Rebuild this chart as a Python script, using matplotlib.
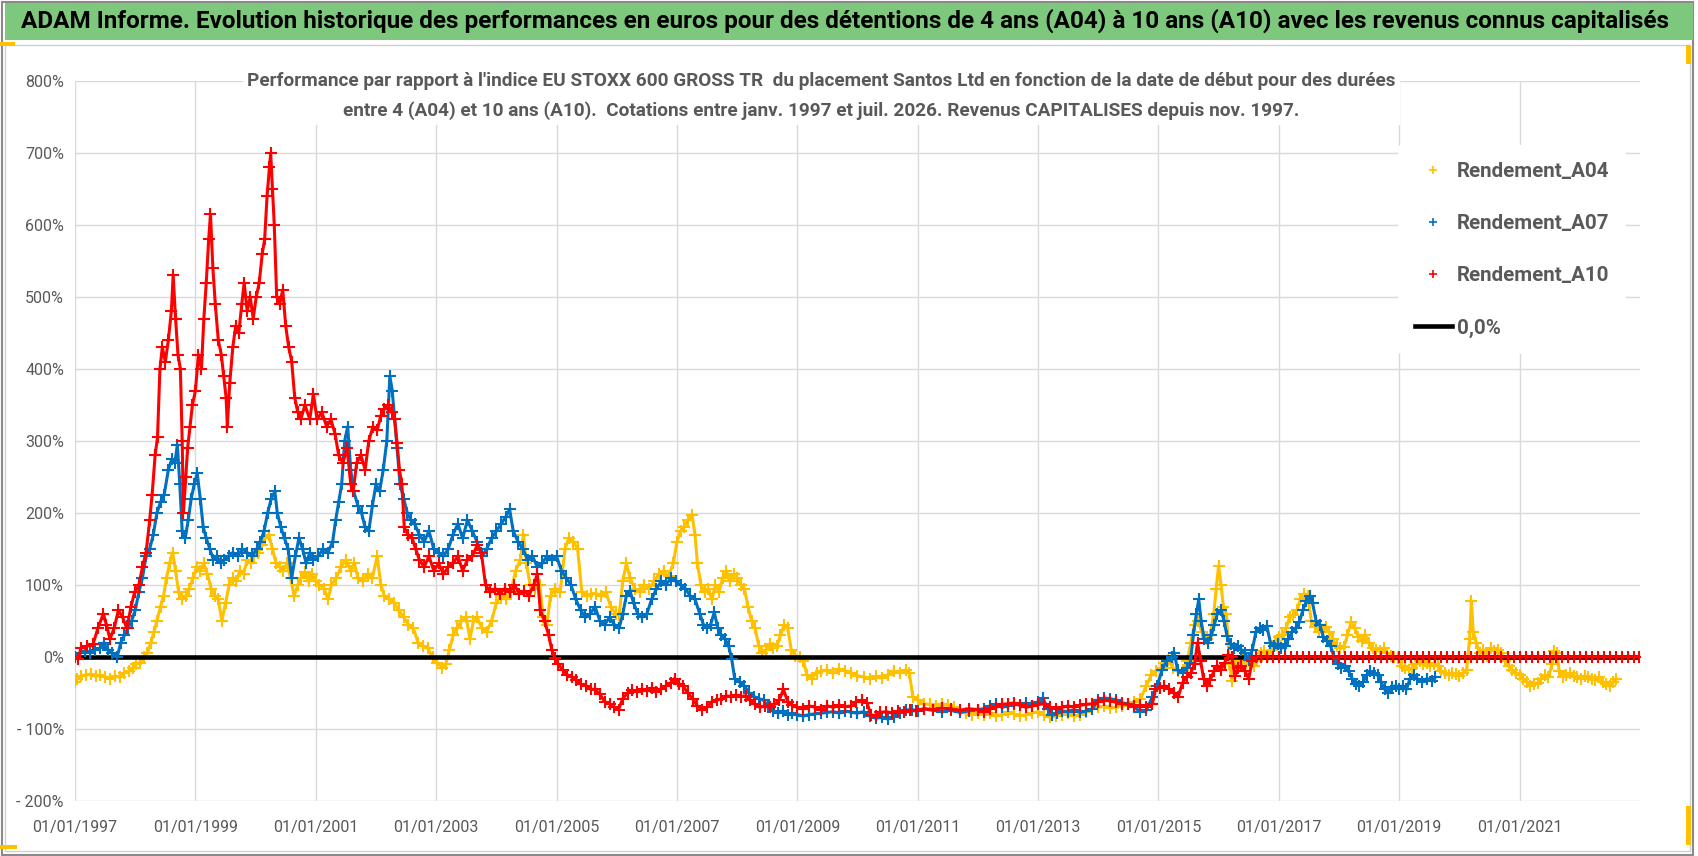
import matplotlib
matplotlib.use("Agg")
import matplotlib.pyplot as plt
from matplotlib.lines import Line2D
from matplotlib.patches import Rectangle

plt.rcParams['font.family'] = ['Roboto', 'DejaVu Sans']

# ---- données (année décimale, % de performance) ----
a04 = [
    (1997.00, -35), (1997.04, -30), (1997.10, -27), (1997.18, -25), (1997.26, -24), (1997.34, -27),
    (1997.42, -25), (1997.50, -28), (1997.58, -30), (1997.66, -27), (1997.74, -28), (1997.82, -22),
    (1997.90, -20), (1997.96, -15), (1998.02, -10), (1998.08, -8), (1998.14, 0), (1998.20, 5),
    (1998.26, 20), (1998.31, 35), (1998.36, 50), (1998.42, 70), (1998.47, 85), (1998.52, 110),
    (1998.57, 130), (1998.62, 145), (1998.67, 120), (1998.72, 90), (1998.78, 80), (1998.84, 85),
    (1998.90, 95), (1998.96, 110), (1999.02, 125), (1999.08, 120), (1999.14, 130), (1999.20, 115),
    (1999.26, 95), (1999.32, 85), (1999.38, 80), (1999.44, 50), (1999.50, 75), (1999.56, 100),
    (1999.62, 110), (1999.68, 105), (1999.74, 120), (1999.80, 115), (1999.86, 135), (1999.92, 130),
    (1999.98, 140), (2000.04, 145), (2000.10, 155), (2000.16, 165), (2000.22, 170), (2000.28, 150),
    (2000.34, 130), (2000.40, 125), (2000.46, 120), (2000.52, 130), (2000.58, 110), (2000.64, 85),
    (2000.70, 100), (2000.76, 110), (2000.82, 118), (2000.88, 105), (2000.94, 115), (2001.00, 105),
    (2001.06, 100), (2001.14, 95), (2001.20, 80), (2001.26, 100), (2001.34, 110), (2001.42, 125),
    (2001.50, 135), (2001.58, 120), (2001.64, 130), (2001.70, 110), (2001.78, 105), (2001.86, 115),
    (2001.94, 110), (2002.02, 140), (2002.08, 100), (2002.14, 85), (2002.22, 80), (2002.30, 75),
    (2002.38, 65), (2002.46, 55), (2002.54, 45), (2002.62, 40), (2002.70, 20), (2002.78, 15),
    (2002.86, 12), (2002.94, 0), (2003.02, -8), (2003.10, -15), (2003.16, -10), (2003.22, 10),
    (2003.28, 30), (2003.34, 40), (2003.42, 50), (2003.50, 55), (2003.56, 25), (2003.62, 50),
    (2003.68, 55), (2003.76, 40), (2003.84, 35), (2003.92, 50), (2004.00, 75), (2004.08, 85),
    (2004.16, 80), (2004.24, 90), (2004.32, 120), (2004.40, 135), (2004.45, 170), (2004.50, 130),
    (2004.56, 100), (2004.64, 95), (2004.72, 100), (2004.78, 55), (2004.84, 45), (2004.90, 85),
    (2004.98, 95), (2005.06, 90), (2005.14, 150), (2005.20, 165), (2005.28, 160), (2005.35, 150),
    (2005.42, 90), (2005.50, 85), (2005.58, 88), (2005.66, 88), (2005.74, 85), (2005.82, 90),
    (2005.90, 70), (2005.98, 60), (2006.04, 58), (2006.10, 105), (2006.16, 130), (2006.22, 110),
    (2006.30, 95), (2006.38, 90), (2006.46, 100), (2006.54, 95), (2006.62, 105), (2006.70, 115),
    (2006.78, 120), (2006.86, 112), (2006.94, 130), (2007.00, 160), (2007.06, 175), (2007.12, 180),
    (2007.18, 190), (2007.25, 197), (2007.30, 170), (2007.34, 130), (2007.40, 100), (2007.46, 90),
    (2007.52, 95), (2007.58, 80), (2007.64, 100), (2007.70, 90), (2007.76, 110), (2007.82, 120),
    (2007.88, 105), (2007.94, 115), (2008.00, 110), (2008.06, 100), (2008.12, 95), (2008.18, 70),
    (2008.24, 50), (2008.30, 40), (2008.36, 15), (2008.42, 5), (2008.48, 10), (2008.54, 18),
    (2008.60, 12), (2008.66, 15), (2008.72, 30), (2008.78, 45), (2008.84, 40), (2008.90, 10),
    (2008.96, 2), (2009.04, 0), (2009.10, -5), (2009.16, -25), (2009.24, -30), (2009.32, -22),
    (2009.40, -20), (2009.50, -18), (2009.60, -22), (2009.70, -17), (2009.80, -20), (2009.90, -22),
    (2010.00, -26), (2010.10, -28), (2010.20, -30), (2010.30, -27), (2010.40, -29), (2010.50, -25),
    (2010.60, -20), (2010.70, -22), (2010.80, -18), (2010.86, -22), (2010.92, -55), (2011.00, -60),
    (2011.10, -65), (2011.20, -66), (2011.30, -68), (2011.40, -65), (2011.50, -67), (2011.60, -70),
    (2011.70, -75), (2011.80, -78), (2011.90, -80), (2012.00, -78), (2012.10, -80), (2012.20, -78),
    (2012.30, -82), (2012.40, -80), (2012.50, -77), (2012.60, -79), (2012.70, -82), (2012.80, -80),
    (2012.90, -78), (2013.00, -76), (2013.10, -80), (2013.20, -84), (2013.30, -82), (2013.40, -80),
    (2013.50, -78), (2013.60, -82), (2013.70, -80), (2013.80, -77), (2013.90, -72), (2014.00, -70),
    (2014.10, -68), (2014.20, -71), (2014.30, -70), (2014.40, -68), (2014.50, -66), (2014.60, -62),
    (2014.70, -58), (2014.80, -40), (2014.88, -25), (2014.96, -20), (2015.04, -15), (2015.10, -8),
    (2015.16, -4), (2015.24, -15), (2015.32, -20), (2015.40, -18), (2015.48, -5), (2015.54, 20),
    (2015.60, 45), (2015.66, 50), (2015.72, 35), (2015.80, 25), (2015.86, 30), (2015.92, 60),
    (2015.96, 95), (2016.00, 127), (2016.04, 100), (2016.08, 70), (2016.13, 60), (2016.18, -10),
    (2016.22, -33), (2016.28, -15), (2016.34, -5), (2016.40, 0), (2016.46, -8), (2016.52, -10),
    (2016.58, -13), (2016.64, -5), (2016.70, 5), (2016.76, 8), (2016.82, 2), (2016.88, 10),
    (2016.94, 22), (2017.00, 28), (2017.06, 30), (2017.12, 40), (2017.18, 55), (2017.24, 58),
    (2017.30, 65), (2017.36, 80), (2017.42, 88), (2017.48, 85), (2017.54, 50), (2017.60, 42),
    (2017.66, 35), (2017.72, 38), (2017.78, 42), (2017.84, 35), (2017.90, 25), (2017.96, 15),
    (2018.02, 12), (2018.08, 14), (2018.14, 30), (2018.20, 48), (2018.26, 40), (2018.32, 28),
    (2018.38, 22), (2018.44, 30), (2018.50, 20), (2018.56, 12), (2018.62, 10), (2018.68, 8),
    (2018.74, 12), (2018.80, 5), (2018.86, 2), (2018.92, 0), (2018.98, -2), (2019.04, -12),
    (2019.10, -16), (2019.16, -18), (2019.22, -15), (2019.28, -10), (2019.34, -6), (2019.40, -10),
    (2019.46, -8), (2019.52, -12), (2019.58, -10), (2019.64, -12), (2019.70, -20), (2019.76, -22),
    (2019.82, -25), (2019.88, -22), (2019.94, -24), (2020.00, -26), (2020.06, -22), (2020.12, -18),
    (2020.17, 25), (2020.20, 78), (2020.23, 35), (2020.28, 20), (2020.34, 5), (2020.40, 10),
    (2020.46, 2), (2020.52, 12), (2020.58, 8), (2020.64, 10), (2020.70, 5), (2020.76, -5),
    (2020.82, -12), (2020.88, -18), (2020.94, -22), (2021.00, -25), (2021.06, -30), (2021.12, -35),
    (2021.18, -40), (2021.24, -38), (2021.30, -36), (2021.36, -30), (2021.42, -25), (2021.48, -28),
    (2021.54, -10), (2021.58, 8), (2021.62, 5), (2021.66, -20), (2021.72, -28), (2021.78, -25),
    (2021.84, -22), (2021.90, -27), (2021.96, -28), (2022.02, -30), (2022.08, -26), (2022.14, -28),
    (2022.20, -30), (2022.26, -32), (2022.32, -28), (2022.38, -35), (2022.44, -38), (2022.50, -40),
    (2022.56, -35), (2022.60, -30),
]

a07 = [
    (1997.00, 0), (1997.08, 5), (1997.16, 8), (1997.25, 6), (1997.33, 10), (1997.41, 12),
    (1997.48, 20), (1997.55, 10), (1997.62, 5), (1997.70, 0), (1997.76, 20), (1997.82, 30),
    (1997.88, 40), (1997.94, 50), (1998.00, 65), (1998.06, 90), (1998.12, 110), (1998.18, 140),
    (1998.24, 150), (1998.30, 170), (1998.36, 200), (1998.42, 215), (1998.48, 225), (1998.55, 260),
    (1998.61, 275), (1998.66, 270), (1998.70, 295), (1998.74, 240), (1998.78, 175), (1998.83, 165),
    (1998.88, 190), (1998.93, 220), (1998.98, 240), (1999.03, 255), (1999.08, 220), (1999.13, 180),
    (1999.18, 165), (1999.24, 150), (1999.30, 135), (1999.36, 140), (1999.42, 130), (1999.48, 135),
    (1999.55, 140), (1999.62, 145), (1999.70, 140), (1999.78, 150), (1999.86, 145), (1999.94, 140),
    (2000.02, 150), (2000.08, 160), (2000.14, 175), (2000.20, 200), (2000.26, 220), (2000.32, 230),
    (2000.36, 200), (2000.42, 180), (2000.48, 165), (2000.54, 150), (2000.60, 110), (2000.66, 140),
    (2000.72, 165), (2000.78, 150), (2000.84, 130), (2000.90, 145), (2000.96, 135), (2001.04, 140),
    (2001.12, 150), (2001.20, 145), (2001.28, 160), (2001.33, 190), (2001.38, 215), (2001.43, 240),
    (2001.48, 300), (2001.53, 320), (2001.58, 260), (2001.63, 230), (2001.70, 210), (2001.76, 200),
    (2001.82, 180), (2001.88, 175), (2001.94, 210), (2002.00, 240), (2002.06, 230), (2002.12, 260),
    (2002.18, 300), (2002.23, 390), (2002.27, 370), (2002.31, 330), (2002.35, 290), (2002.40, 240),
    (2002.46, 220), (2002.52, 200), (2002.58, 190), (2002.64, 185), (2002.72, 170), (2002.80, 160),
    (2002.88, 175), (2002.96, 150), (2003.04, 145), (2003.12, 140), (2003.20, 150), (2003.28, 170),
    (2003.36, 185), (2003.44, 165), (2003.52, 190), (2003.60, 175), (2003.68, 160), (2003.76, 140),
    (2003.84, 150), (2003.92, 165), (2004.00, 175), (2004.08, 185), (2004.16, 195), (2004.22, 205),
    (2004.28, 175), (2004.36, 160), (2004.44, 150), (2004.52, 135), (2004.60, 140), (2004.68, 125),
    (2004.76, 130), (2004.84, 140), (2004.92, 135), (2005.00, 140), (2005.08, 120), (2005.16, 110),
    (2005.24, 100), (2005.32, 80), (2005.40, 65), (2005.48, 55), (2005.56, 60), (2005.64, 70),
    (2005.72, 50), (2005.80, 45), (2005.88, 55), (2005.96, 45), (2006.04, 40), (2006.10, 60),
    (2006.16, 85), (2006.22, 92), (2006.28, 75), (2006.35, 60), (2006.42, 55), (2006.50, 60),
    (2006.58, 80), (2006.66, 95), (2006.74, 105), (2006.82, 100), (2006.90, 110), (2006.98, 105),
    (2007.06, 100), (2007.14, 95), (2007.22, 85), (2007.30, 80), (2007.38, 60), (2007.44, 45),
    (2007.50, 40), (2007.56, 45), (2007.62, 62), (2007.68, 40), (2007.74, 30), (2007.80, 25),
    (2007.86, 15), (2007.91, -3), (2007.96, -30), (2008.04, -35), (2008.12, -40), (2008.20, -50),
    (2008.28, -55), (2008.36, -58), (2008.44, -60), (2008.52, -70), (2008.60, -75), (2008.68, -78),
    (2008.76, -75), (2008.84, -80), (2008.92, -78), (2009.00, -80), (2009.10, -82), (2009.20, -80),
    (2009.30, -79), (2009.40, -78), (2009.50, -77), (2009.60, -76), (2009.70, -78), (2009.80, -75),
    (2009.90, -77), (2010.00, -78), (2010.10, -76), (2010.20, -82), (2010.30, -85), (2010.40, -84),
    (2010.50, -86), (2010.60, -83), (2010.70, -78), (2010.80, -74), (2010.90, -73), (2011.00, -75),
    (2011.10, -72), (2011.25, -74), (2011.40, -76), (2011.55, -74), (2011.70, -77), (2011.85, -75),
    (2012.00, -73), (2012.10, -72), (2012.20, -68), (2012.30, -66), (2012.40, -70), (2012.50, -68),
    (2012.60, -65), (2012.70, -67), (2012.80, -64), (2012.90, -68), (2013.00, -62), (2013.08, -57),
    (2013.16, -72), (2013.24, -81), (2013.32, -78), (2013.40, -75), (2013.50, -76), (2013.60, -74),
    (2013.70, -77), (2013.80, -75), (2013.90, -72), (2014.00, -60), (2014.10, -57), (2014.20, -58),
    (2014.30, -60), (2014.40, -64), (2014.50, -65), (2014.60, -70), (2014.70, -76), (2014.80, -74),
    (2014.90, -55), (2014.98, -40), (2015.06, -18), (2015.14, -5), (2015.22, 0), (2015.26, 6),
    (2015.32, -18), (2015.40, -22), (2015.47, -15), (2015.53, -8), (2015.58, 30), (2015.63, 60),
    (2015.67, 80), (2015.71, 50), (2015.76, 25), (2015.82, 20), (2015.88, 30), (2015.93, 45),
    (2015.98, 60), (2016.04, 65), (2016.09, 50), (2016.14, 29), (2016.20, 18), (2016.26, 12),
    (2016.32, 15), (2016.38, 10), (2016.44, 5), (2016.50, -4), (2016.56, 10), (2016.62, 35),
    (2016.68, 40), (2016.74, 38), (2016.80, 43), (2016.86, 20), (2016.92, 15), (2016.98, 18),
    (2017.04, 12), (2017.10, 15), (2017.16, 25), (2017.22, 35), (2017.28, 40), (2017.34, 48),
    (2017.40, 65), (2017.46, 78), (2017.52, 85), (2017.56, 75), (2017.62, 50), (2017.68, 45),
    (2017.74, 28), (2017.80, 22), (2017.86, 15), (2017.92, 0), (2017.98, -10), (2018.04, -15),
    (2018.10, -12), (2018.16, -20), (2018.22, -30), (2018.28, -38), (2018.34, -40), (2018.40, -35),
    (2018.46, -25), (2018.52, -20), (2018.58, -22), (2018.64, -25), (2018.70, -35), (2018.76, -45),
    (2018.82, -50), (2018.88, -42), (2018.94, -40), (2019.00, -44), (2019.06, -40), (2019.12, -45),
    (2019.18, -30), (2019.24, -25), (2019.30, -30), (2019.38, -35), (2019.46, -30), (2019.54, -33),
    (2019.60, -28),
]

a10 = [
    (1997.00, 0), (1997.05, -3), (1997.10, 12), (1997.20, 15), (1997.30, 18), (1997.38, 40),
    (1997.47, 60), (1997.52, 45), (1997.58, 25), (1997.65, 40), (1997.72, 65), (1997.79, 55),
    (1997.86, 40), (1997.93, 70), (1997.99, 90), (1998.06, 100), (1998.12, 125), (1998.18, 145),
    (1998.24, 190), (1998.28, 225), (1998.33, 280), (1998.37, 305), (1998.41, 400), (1998.45, 430),
    (1998.50, 410), (1998.55, 440), (1998.60, 480), (1998.63, 530), (1998.67, 470), (1998.71, 420),
    (1998.75, 400), (1998.78, 300), (1998.80, 200), (1998.84, 250), (1998.87, 290), (1998.91, 320),
    (1998.95, 350), (1999.00, 370), (1999.05, 420), (1999.10, 400), (1999.14, 470), (1999.18, 520),
    (1999.22, 580), (1999.25, 615), (1999.29, 540), (1999.33, 490), (1999.38, 440), (1999.43, 420),
    (1999.47, 390), (1999.51, 360), (1999.53, 320), (1999.57, 380), (1999.62, 430), (1999.67, 460),
    (1999.72, 450), (1999.77, 490), (1999.81, 520), (1999.86, 480), (1999.91, 500), (1999.96, 470),
    (2000.01, 500), (2000.06, 520), (2000.11, 560), (2000.15, 580), (2000.19, 640), (2000.23, 680),
    (2000.25, 700), (2000.28, 650), (2000.31, 600), (2000.35, 500), (2000.40, 490), (2000.45, 510),
    (2000.50, 460), (2000.55, 430), (2000.60, 410), (2000.65, 360), (2000.70, 340), (2000.75, 330),
    (2000.82, 350), (2000.90, 330), (2000.96, 365), (2001.02, 330), (2001.10, 340), (2001.18, 320),
    (2001.25, 330), (2001.32, 310), (2001.38, 280), (2001.45, 270), (2001.52, 290), (2001.58, 240),
    (2001.62, 230), (2001.68, 270), (2001.75, 280), (2001.82, 260), (2001.88, 300), (2001.95, 320),
    (2002.02, 315), (2002.08, 335), (2002.14, 345), (2002.20, 350), (2002.26, 340), (2002.31, 330),
    (2002.35, 297), (2002.39, 260), (2002.43, 240), (2002.47, 180), (2002.53, 170), (2002.60, 165),
    (2002.66, 150), (2002.72, 135), (2002.80, 125), (2002.88, 140), (2002.96, 120), (2003.04, 130),
    (2003.12, 115), (2003.20, 125), (2003.28, 130), (2003.36, 140), (2003.44, 120), (2003.52, 135),
    (2003.60, 140), (2003.68, 155), (2003.75, 145), (2003.82, 100), (2003.90, 90), (2003.98, 95),
    (2004.06, 88), (2004.14, 95), (2004.22, 90), (2004.30, 100), (2004.38, 88), (2004.46, 92),
    (2004.54, 85), (2004.62, 100), (2004.68, 115), (2004.73, 65), (2004.80, 50), (2004.87, 30),
    (2004.92, 10), (2004.97, -2), (2005.03, -10), (2005.10, -18), (2005.18, -25), (2005.26, -28),
    (2005.33, -32), (2005.41, -38), (2005.49, -40), (2005.57, -45), (2005.64, -45), (2005.72, -52),
    (2005.80, -62), (2005.88, -65), (2005.96, -70), (2006.03, -73), (2006.10, -58), (2006.18, -50),
    (2006.26, -46), (2006.34, -48), (2006.42, -45), (2006.50, -47), (2006.58, -43), (2006.66, -48),
    (2006.74, -44), (2006.82, -40), (2006.90, -36), (2006.96, -30), (2007.03, -37), (2007.10, -40),
    (2007.18, -50), (2007.26, -58), (2007.34, -68), (2007.42, -73), (2007.50, -70), (2007.58, -62),
    (2007.66, -60), (2007.74, -58), (2007.82, -54), (2007.90, -55), (2007.98, -53), (2008.06, -55),
    (2008.14, -54), (2008.22, -60), (2008.30, -66), (2008.38, -70), (2008.46, -68), (2008.54, -70),
    (2008.62, -66), (2008.70, -60), (2008.77, -45), (2008.84, -62), (2008.92, -67), (2009.00, -70),
    (2009.10, -72), (2009.20, -68), (2009.30, -70), (2009.40, -73), (2009.50, -68), (2009.60, -70),
    (2009.70, -67), (2009.80, -69), (2009.90, -68), (2009.98, -62), (2010.08, -60), (2010.16, -64),
    (2010.22, -80), (2010.30, -82), (2010.38, -77), (2010.48, -76), (2010.58, -78), (2010.68, -75),
    (2010.78, -76), (2010.88, -74), (2010.98, -75), (2011.10, -72), (2011.25, -73), (2011.40, -71),
    (2011.55, -72), (2011.70, -74), (2011.85, -72), (2012.00, -73), (2012.10, -76), (2012.20, -72),
    (2012.30, -70), (2012.40, -66), (2012.50, -65), (2012.60, -64), (2012.70, -67), (2012.80, -70),
    (2012.90, -68), (2013.00, -66), (2013.10, -65), (2013.20, -70), (2013.30, -72), (2013.40, -70),
    (2013.50, -68), (2013.60, -70), (2013.70, -67), (2013.80, -66), (2013.90, -65), (2014.00, -62),
    (2014.10, -60), (2014.20, -61), (2014.30, -63), (2014.40, -65), (2014.50, -66), (2014.60, -68),
    (2014.70, -67), (2014.80, -69), (2014.90, -65), (2014.95, -45), (2015.02, -43), (2015.10, -40),
    (2015.18, -45), (2015.26, -50), (2015.33, -55), (2015.40, -36), (2015.47, -28), (2015.54, -22),
    (2015.60, -10), (2015.65, 20), (2015.70, -5), (2015.75, -30), (2015.81, -40), (2015.86, -32),
    (2015.92, -20), (2015.98, -12), (2016.04, -18), (2016.10, -8), (2016.16, 3), (2016.22, 0),
    (2016.27, -27), (2016.33, -15), (2016.38, -12), (2016.44, -20), (2016.50, -30), (2016.56, -5),
    (2016.62, 0), (2016.7, 0), (2016.8, 0), (2016.9, 0), (2017.0, 0), (2017.1, 0), (2017.2, 0),
    (2017.3, 0), (2017.4, 0), (2017.5, 0), (2017.6, 0), (2017.7, 0), (2017.8, 0), (2017.9, 0),
    (2018.0, 0), (2018.1, 0), (2018.2, 0), (2018.3, 0), (2018.4, 0), (2018.5, 0), (2018.6, 0),
    (2018.7, 0), (2018.8, 0), (2018.9, 0), (2019.0, 0), (2019.1, 0), (2019.2, 0), (2019.3, 0),
    (2019.4, 0), (2019.5, 0), (2019.6, 0), (2019.7, 0), (2019.8, 0), (2019.9, 0), (2020.0, 0),
    (2020.1, 0), (2020.2, 0), (2020.3, 0), (2020.4, 0), (2020.5, 0), (2020.6, 0), (2020.7, 0),
    (2020.8, 0), (2020.9, 0), (2021.0, 0), (2021.1, 0), (2021.2, 0), (2021.3, 0), (2021.4, 0),
    (2021.5, 0), (2021.6, 0), (2021.7, 0), (2021.8, 0), (2021.9, 0), (2022.0, 0), (2022.1, 0),
    (2022.2, 0), (2022.3, 0), (2022.4, 0), (2022.5, 0), (2022.6, 0), (2022.7, 0), (2022.8, 0),
    (2022.9, 0), (2022.98, 0),
]

series_names = ['Rendement_A04', 'Rendement_A07', 'Rendement_A10']
series_colors = ['#FFC000', '#0070C0', '#FF0000']
tick_years = [1997, 1999, 2001, 2003, 2005, 2007, 2009, 2011, 2013, 2015, 2017, 2019, 2021]
y_ticks = [-200, -100, 0, 100, 200, 300, 400, 500, 600, 700, 800]
y_labels = ['- 200%', '- 100%', '0%', '100%', '200%', '300%', '400%', '500%', '600%', '700%', '800%']

titre = ("ADAM Informe. Evolution historique des performances en euros pour des détentions de 4 ans (A04) "
         "à 10 ans (A10) avec les revenus connus capitalisés")
sous_titre = ("Performance par rapport à l'indice EU STOXX 600 GROSS TR  du placement Santos Ltd en fonction "
              "de la date de début pour des durées\nentre 4 (A04) et 10 ans (A10).  Cotations entre janv. 1997 "
              "et juil. 2026. Revenus CAPITALISES depuis nov. 1997.")

gris = '#595959'

fig = plt.figure(figsize=(16.98, 8.56), dpi=100)
renderer = fig.canvas.get_renderer()


def fit_width(txt, target_px):
    # ajuste la taille de police pour obtenir la largeur voulue
    w = txt.get_window_extent(renderer).width
    txt.set_fontsize(txt.get_fontsize() * target_px / w)


# cadre + bandeau vert du titre
fig.patches.append(Rectangle((0.001, 0.001), 0.996, 0.997, transform=fig.transFigure,
                             fill=False, edgecolor='#8a8a8a', lw=1.5))
fig.patches.append(Rectangle((0.003, 0.953), 0.994, 0.044, transform=fig.transFigure,
                             facecolor='#7EC87E', edgecolor='none'))
fig.patches.append(Rectangle((0.003, 0.006), 0.992, 0.942, transform=fig.transFigure,
                             fill=False, edgecolor='#d0d0d0', lw=1))
for (x0, y0, w, h) in [(0.0, 0.946, 0.009, 0.005), (0.993, 0.925, 0.003, 0.022),
                       (0.0, 0.008, 0.01, 0.005), (0.993, 0.013, 0.003, 0.045)]:
    fig.patches.append(Rectangle((x0, y0), w, h, transform=fig.transFigure,
                                 facecolor='#FFC000', edgecolor='none'))

t_titre = fig.text(0.4975, 0.976, titre, ha='center', va='center', fontsize=19,
                   fontweight='bold', color='black')
fit_width(t_titre, 1655)

ax = fig.add_axes([0.0442, 0.0643, 0.9216, 0.8411])

x4, y4 = zip(*a04)
x7, y7 = zip(*a07)
x10, y10 = zip(*a10)

style = dict(lw=2.2, marker='+', ms=8, mew=1.5)
ax.plot(x4, y4, color=series_colors[0], zorder=3, label=series_names[0], **style)
ax.axhline(0, color='black', lw=3.3, zorder=4, label='0,0%')
ax.plot(x7, y7, color=series_colors[1], zorder=5, label=series_names[1], **style)
ax.plot(x10, y10, color=series_colors[2], zorder=6, label=series_names[2], **style)

ax.set_xlim(1997, 2023.0)
ax.set_ylim(-200, 800)
ax.set_xticks(tick_years)
ax.set_xticklabels(['01/01/%d' % a for a in tick_years])
ax.set_yticks(y_ticks)
ax.set_yticklabels(y_labels)
ax.tick_params(length=0, labelsize=11.5, colors=gris, pad=8)
ax.tick_params(axis='x', pad=14)
ax.grid(True, color='#d9d9d9', lw=1)
ax.set_axisbelow(True)
for s in ax.spines.values():
    s.set_visible(False)

t_sous = ax.text(0.477, 1.012, sous_titre, transform=ax.transAxes, ha='center', va='top',
                 fontsize=16, fontweight='bold', color=gris, linespacing=1.75, zorder=10,
                 bbox=dict(facecolor='white', edgecolor='none', pad=4))
fit_width(t_sous, 1150)

handles = [Line2D([], [], color=c, marker='+', ls='none', ms=6, mew=1.2) for c in series_colors]
handles.append(Line2D([], [], color='black', lw=3.3))
leg = ax.legend(handles, series_names + ['0,0%'], loc='upper left', bbox_to_anchor=(0.839, 0.925),
                fontsize=14.8, frameon=True, facecolor='white', edgecolor='none', framealpha=1,
                labelspacing=1.62, handlelength=1.8, handletextpad=0.25, borderpad=0.8)
for t in leg.get_texts():
    t.set_color(gris)
    t.set_fontweight('bold')
leg.set_zorder(20)

fig.savefig('out.png', dpi=100)
